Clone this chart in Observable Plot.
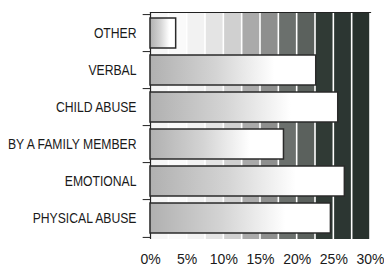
<!DOCTYPE html>
<html>
<head>
<meta charset="utf-8">
<script src="https://cdn.jsdelivr.net/npm/d3@7"></script>
<script src="https://cdn.jsdelivr.net/npm/@observablehq/plot@0.6"></script>
<style>
  html, body { margin: 0; padding: 0; background: #fff; }
  #chart svg { display: block; }
</style>
</head>
<body>
<div id="chart"></div>
<script>
const categories = ["OTHER", "VERBAL", "CHILD ABUSE", "BY A FAMILY MEMBER", "EMOTIONAL", "PHYSICAL ABUSE"];
const values = [3.5, 22.6, 25.6, 18.2, 26.5, 24.6];
const xTicks = [0, 5, 10, 15, 20, 25, 30];
const bandStarts = [0, 2.5, 5, 7.5, 10, 12.5, 15, 17.5, 20, 22.5, 25, 27.5];
const bandColors = ["#f6f6f6", "#fafafa", "#f2f2f2", "#e4e4e4", "#d0d0d0", "#aaaaaa",
                    "#8e8f8e", "#6b706d", "#5b615d", "#303a35", "#2c3632", "#28312d"];

const data = categories.map((c, i) => ({category: c, value: values[i]}));
const bands = bandStarts.map((s, i) => ({x1: s, x2: s + 2.5, color: bandColors[i]}));

const W = 384, H = 280, mT = 12, mB = 41, mL = 150, mR = 14;
const step = (H - mT - mB) / categories.length;

const defs = () => {
  const g = d3.create("svg:defs");
  const lg = g.append("linearGradient").attr("id", "barGrad").attr("x1", "0").attr("x2", "1").attr("y1", "0").attr("y2", "0");
  lg.append("stop").attr("offset", "0%").attr("stop-color", "#b0b0b0");
  lg.append("stop").attr("offset", "40%").attr("stop-color", "#d4d4d4");
  lg.append("stop").attr("offset", "75%").attr("stop-color", "#ffffff");
  lg.append("stop").attr("offset", "100%").attr("stop-color", "#ffffff");
  return g.node();
};

const chart = Plot.plot({
  width: W,
  height: H,
  marginTop: mT,
  marginBottom: mB,
  marginLeft: mL,
  marginRight: mR,
  style: {fontFamily: "'Liberation Sans', Arial, sans-serif", color: "#1a1a1a", background: "#fff"},
  x: {domain: [0, 30], ticks: xTicks, tickFormat: d => d + "%", label: null},
  y: {domain: categories, paddingInner: 0.19, paddingOuter: 0.095, label: null},
  marks: [
    defs,
    Plot.rectX(bands, {x1: "x1", x2: "x2", fill: "color", insetLeft: 0.8, insetRight: 0.8}),
    Plot.frame({anchor: "top", stroke: "#222", strokeWidth: 1.2}),
    Plot.ruleX([0], {stroke: "#222", strokeWidth: 1.2}),
    Plot.ruleY(categories, {y: d => d, x1: -1, x2: 0, dy: -step / 2, stroke: "#222"}),
    Plot.ruleY([categories[categories.length - 1]], {y: d => d, x1: -1, x2: 0, dy: step / 2, stroke: "#222"}),
    Plot.barX(data, {y: "category", x: "value", fill: "url(#barGrad)", stroke: "#2a2a2a", strokeWidth: 1.5}),
    Plot.axisY({tickSize: 0, tickPadding: 14, fontSize: 14.5, label: null, ariaLabel: "y-axis"}),
    Plot.axisX({ticks: xTicks, tickFormat: d => d + "%", tickSize: 0, tickPadding: 15, fontSize: 14, label: null})
  ]
});
document.getElementById("chart").appendChild(chart);

// Condense the category labels (the original uses a narrow typeface)
d3.select(chart).selectAll("g[aria-label='y-axis'] text, g[aria-label='y-axis tick label'] text").each(function () {
  const len = this.getComputedTextLength();
  this.setAttribute("textLength", (len * 0.84).toFixed(1));
  this.setAttribute("lengthAdjust", "spacingAndGlyphs");
});
</script>
</body>
</html>
